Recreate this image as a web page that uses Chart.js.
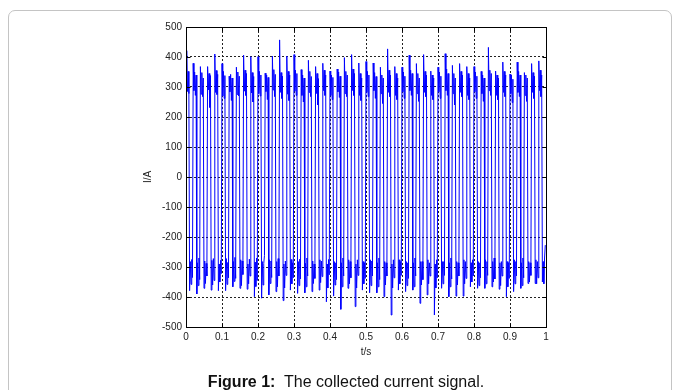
<!DOCTYPE html>
<html lang="en">
  <head>
    <meta charset="UTF-8" />
    <title>The collected current signal</title>
    <script src="https://cdn.jsdelivr.net/npm/chart.js"></script>
    <style>
      body {
        margin: 0;
        width: 680px;
        height: 390px;
        background: #fff;
        position: relative;
        overflow: hidden;
        font-family: Arial, "Liberation Sans", sans-serif;
      }
      #frame {
        position: absolute;
        left: 8px;
        top: 10px;
        width: 662px;
        height: 400px;
        border: 1px solid #c4c4c4;
        border-radius: 7px;
      }
      #chart-container {
        position: absolute;
        left: 0;
        top: 0;
        width: 680px;
        height: 390px;
      }
      #caption {
        position: absolute;
        left: 0;
        width: 692px;
        top: 372px;
        line-height: 20px;
        font-size: 16px;
        color: #111;
        text-align: center;
        white-space: pre;
      }
    </style>
  </head>
  <body>
    <div id="frame"></div>
    <div id="chart-container">
      <canvas id="myChart" width="680" height="390"></canvas>
    </div>
    <div id="caption"><b>Figure 1:</b>  The collected current signal.</div>

    <script>
      // sampling interval of the recording (s)
      const sampleStep = 0.002;

      // current samples (A), one row per 50 Hz cycle: 5 high + 5 low samples
      const current = [
        335, 421, 285, 352, 278, -379, -282, -358, -275, -335,
        379, 288, 350, 272, 340, -390, -286, -362, -270, -342,
        368, 276, 348, 268, 330, -371, -280, -355, -288, -330,
        368, 290, 345, 232, 338, -377, -278, -360, -272, -345,
        410, 282, 355, 275, 342, -379, -290, -350, -278, -322,
        378, 270, 352, 262, 338, -379, -272, -358, -285, -336,
        336, 284, 342, 255, 330, -366, -282, -348, -268, -338,
        366, 275, 350, 270, 336, -371, -276, -362, -280, -325,
        406, 286, 356, 272, 345, -374, -290, -356, -274, -330,
        401, 280, 348, 250, 335, -399, -284, -365, -270, -345,
        401, 278, 352, 270, 340, -404, -282, -360, -288, -262,
        346, 285, 340, 258, 332, -393, -276, -355, -280, -335,
        403, 290, 358, 268, 342, -382, -282, -366, -272, -330,
        457, 282, 348, 262, 336, -412, -290, -370, -280, -328,
        403, 276, 352, 255, 340, -377, -275, -356, -286, -336,
        408, 286, 356, 272, 345, -388, -282, -362, -274, -340,
        358, 272, 340, 250, 330, -386, -288, -366, -270, -330,
        389, 282, 352, 268, 335, -382, -280, -355, -290, -338,
        368, 278, 345, 240, 328, -377, -276, -352, -280, -332,
        379, 288, 356, 272, 340, -416, -290, -370, -275, -326,
        353, 272, 340, 258, 332, -397, -282, -360, -286, -342,
        360, 284, 350, 265, 336, -441, -286, -366, -270, -330,
        398, 278, 352, 268, 340, -371, -276, -356, -282, -336,
        408, 288, 360, 272, 345, -432, -290, -370, -276, -328,
        380, 272, 345, 255, 330, -377, -282, -356, -286, -338,
        385, 282, 352, 268, 340, -386, -276, -362, -280, -330,
        380, 288, 348, 262, 335, -386, -286, -366, -270, -342,
        366, 278, 340, 245, 330, -399, -282, -360, -286, -330,
        427, 282, 356, 268, 340, -460, -290, -370, -276, -336,
        368, 272, 345, 258, 330, -377, -276, -356, -282, -328,
        366, 284, 350, 262, 336, -382, -282, -362, -286, -338,
        406, 288, 356, 272, 345, -377, -286, -366, -270, -330,
        378, 278, 345, 252, 330, -421, -282, -360, -282, -342,
        408, 282, 352, 268, 340, -393, -276, -356, -286, -330,
        353, 272, 340, 258, 330, -460, -290, -370, -276, -336,
        366, 284, 350, 262, 336, -371, -282, -356, -282, -328,
        411, 288, 360, 272, 345, -399, -286, -366, -270, -340,
        372, 278, 345, 240, 330, -397, -282, -360, -286, -330,
        378, 282, 352, 268, 340, -397, -276, -356, -282, -338,
        368, 272, 345, 258, 330, -366, -286, -350, -276, -330,
        368, 284, 350, 262, 336, -371, -282, -362, -286, -336,
        352, 278, 340, 252, 330, -371, -276, -356, -282, -328,
        432, 288, 356, 272, 345, -366, -282, -350, -270, -340,
        353, 272, 340, 258, 330, -374, -286, -362, -282, -330,
        383, 282, 352, 268, 340, -399, -282, -366, -286, -338,
        343, 278, 340, 248, 326, -382, -276, -356, -282, -330,
        383, 282, 352, 268, 340, -371, -286, -362, -270, -336,
        348, 272, 340, 252, 330, -355, -282, -350, -286, -328,
        378, 282, 348, 262, 336, -355, -276, -356, -282, -336,
        387, 288, 356, 268, 340, -350, -282, -356, -270, -227,
      ];

      const xTicks = [0, 0.1, 0.2, 0.3, 0.4, 0.5, 0.6, 0.7, 0.8, 0.9, 1];
      const yTicks = [-500, -400, -300, -200, -100, 0, 100, 200, 300, 400, 500];

      const points = current.map((y, i) => ({ x: i * sampleStep, y: y }));

      const tickFont = { family: 'Arial, "Liberation Sans", sans-serif', size: 10 };

      function gridColor(ctx) {
        const v = ctx.tick.value;
        const ends = ctx.scale.axis === "x" ? [0, 1] : [-500, 500];
        return ends.includes(v) ? "rgba(0,0,0,0)" : "#222";
      }

      // matlab style box + inward ticks
      const boxPlugin = {
        id: "box",
        afterDatasetsDraw(chart) {
          const { ctx, chartArea } = chart;
          const l = Math.round(chartArea.left) + 0.5;
          const r = Math.round(chartArea.right) + 0.5;
          const t = Math.round(chartArea.top) + 0.5;
          const b = Math.round(chartArea.bottom) + 0.5;
          ctx.save();
          ctx.strokeStyle = "#000";
          ctx.lineWidth = 1;
          ctx.strokeRect(l, t, r - l, b - t);
          ctx.beginPath();
          xTicks.forEach((v) => {
            const px = Math.round(chart.scales.x.getPixelForValue(v)) + 0.5;
            ctx.moveTo(px, b);
            ctx.lineTo(px, b - 4);
            ctx.moveTo(px, t);
            ctx.lineTo(px, t + 4);
          });
          yTicks.forEach((v) => {
            const py = Math.round(chart.scales.y.getPixelForValue(v)) + 0.5;
            ctx.moveTo(l, py);
            ctx.lineTo(l + 4, py);
            ctx.moveTo(r, py);
            ctx.lineTo(r - 4, py);
          });
          ctx.stroke();
          ctx.restore();
        },
      };

      const ctx = document.getElementById("myChart").getContext("2d");
      new Chart(ctx, {
        type: "line",
        data: {
          datasets: [
            {
              data: points,
              borderColor: "#0000ff",
              borderWidth: 1,
              pointRadius: 0,
              tension: 0,
              fill: false,
            },
          ],
        },
        options: {
          responsive: false,
          animation: false,
          events: [],
          layout: { padding: { left: 138, right: 134, top: 27, bottom: 31 } },
          plugins: { legend: { display: false }, tooltip: { enabled: false } },
          scales: {
            x: {
              type: "linear",
              min: 0,
              max: 1,
              afterFit: (s) => { s.height = 32; },
              afterBuildTicks: (s) => { s.ticks = xTicks.map((v) => ({ value: v })); },
              ticks: {
                font: tickFont,
                color: "#222",
                padding: 4,
                maxRotation: 0,
                autoSkip: false,
                callback: (v) => String(v),
              },
              grid: { color: gridColor, drawTicks: false, lineWidth: 1 },
              border: { display: false, dash: [2, 2] },
              title: {
                display: true,
                text: "t/s",
                font: tickFont,
                color: "#222",
                padding: { top: 0, bottom: 1 },
              },
            },
            y: {
              min: -500,
              max: 500,
              afterFit: (s) => { s.width = 48; },
              afterBuildTicks: (s) => { s.ticks = yTicks.map((v) => ({ value: v })); },
              ticks: { font: tickFont, color: "#222", padding: 4 },
              grid: { color: gridColor, drawTicks: false, lineWidth: 1 },
              border: { display: false, dash: [2, 2] },
              title: {
                display: true,
                text: "I/A",
                font: tickFont,
                color: "#222",
                padding: { top: 4, bottom: 0 },
              },
            },
          },
        },
        plugins: [boxPlugin],
      });
    </script>
  </body>
</html>
